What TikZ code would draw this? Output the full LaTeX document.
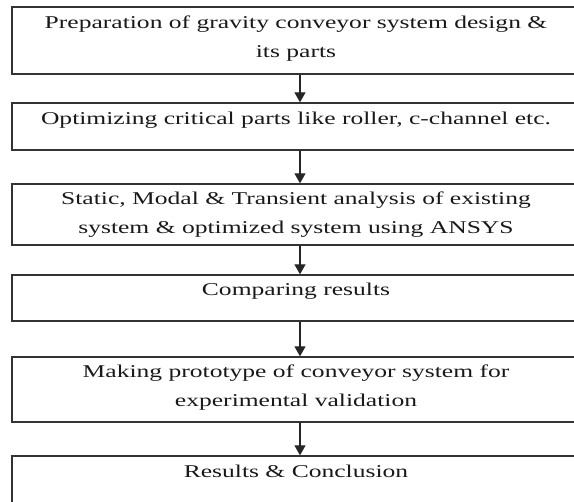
\documentclass[tikz,border=0pt]{standalone}
\usepackage{fontspec}
\setmainfont{Liberation Serif}[FakeStretch=1.42]
\usetikzlibrary{arrows.meta}
\begin{document}
\begin{tikzpicture}[x=1pt,y=-1pt,
  box/.style={draw=black!80, line width=1.3pt, rectangle, inner sep=0pt},
  txt/.style={font=\fontsize{18}{29}\selectfont, align=center, inner sep=0pt, text=black!90},
  flow/.style={draw=black!85, line width=1.2pt, -{Triangle[length=10pt,width=11pt]}}]
\useasboundingbox (0,0) rectangle (574,502);
% process boxes (left edge x=12, right edge past the page)
\node[box, minimum width=570pt, minimum height=67pt] (b1) at (297,40.5) {};
\node[box, minimum width=570pt, minimum height=47pt] (b2) at (297,126.5) {};
\node[box, minimum width=570pt, minimum height=61pt] (b3) at (297,214.5) {};
\node[box, minimum width=570pt, minimum height=46pt] (b4) at (297,298) {};
\node[box, minimum width=570pt, minimum height=65pt] (b5) at (297,389.5) {};
\node[box, minimum width=570pt, minimum height=56pt] (b6) at (297,484) {};
% step texts
\node[txt] (t1) at (296,39) {Preparation of gravity conveyor system design \&\\its parts};
\node[txt] (t2) at (296,120) {Optimizing critical parts like roller, c-channel etc.};
\node[txt] (t3) at (296,215) {Static, Modal \& Transient analysis of existing\\system \& optimized system using ANSYS};
\node[txt] (t4) at (296,291) {Comparing results};
\node[txt] (t5) at (296,388) {Making prototype of conveyor system for\\experimental validation};
\node[txt] (t6) at (296,471) {Results \& Conclusion};
% connectors
\foreach \a/\b in {b1/b2,b2/b3,b3/b4,b4/b5,b5/b6}
  \draw[flow] ([xshift=3pt]\a.south) -- ([xshift=3pt]\b.north);
\end{tikzpicture}
\end{document}
